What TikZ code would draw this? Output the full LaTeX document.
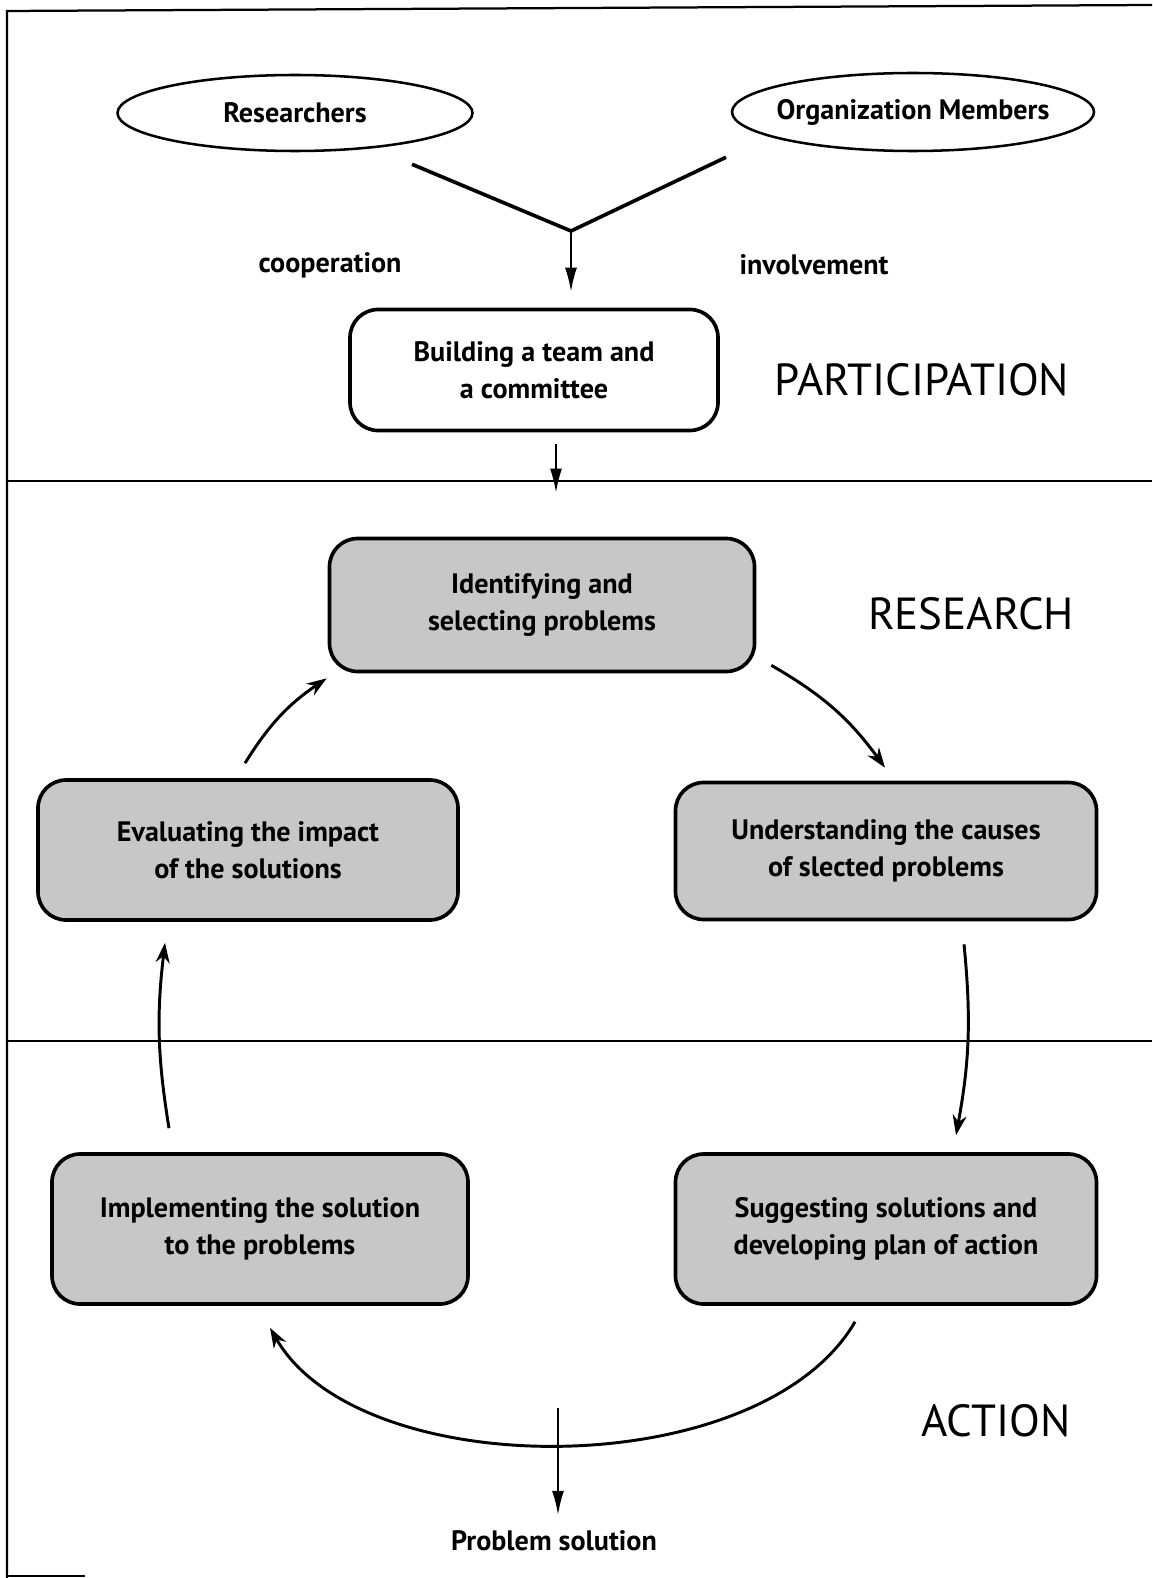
\documentclass[tikz,border=0pt]{standalone}
\usepackage{fontspec}
\setmainfont{PT Sans}
\usetikzlibrary{shapes.geometric,arrows.meta}

\begin{document}
\begin{tikzpicture}[x=0.25mm,y=-0.25mm,font=\fontsize{20}{26}\selectfont\bfseries,
	oval/.style={ellipse,draw,line width=1.8pt,inner ysep=0pt,inner xsep=-6mm},
	plainbox/.style={draw,line width=2.6pt,rounded corners=20pt,align=center,inner sep=0pt},
	greybox/.style={plainbox,fill=black!22},
	phase/.style={font=\fontsize{32}{38}\selectfont},
	flow/.style={line width=1.3pt,-{Latex[length=6mm,width=3mm]}},
	turn/.style={line width=2.1pt,-{Stealth[length=5mm,width=3.5mm]}}]
		\useasboundingbox (0,0) rectangle (1152,1578);
		% frame and bands
		\draw[line width=1.6pt] (1152,5) -- (7,11) -- (7,1578);
		\draw[line width=1.6pt] (7,1576) -- (85,1576);
		\draw[line width=1.6pt] (7,481) -- (1152,481);
		\draw[line width=1.6pt] (7,1041) -- (1152,1041);
		\node[oval,minimum width=88.75mm,minimum height=19mm] (res) at (295,113) {Researchers};
		\node[oval,minimum width=90.5mm,minimum height=19.5mm] (org) at (913,112) {Organization Members};
		\node (coop) at (330,265) {cooperation};
		\node (inv) at (814,265) {involvement};
		\node[plainbox,minimum width=92mm,minimum height=30.25mm] (build) at (534,370) {Building a team and\\a committee};
		\node[phase] (part) at (922,380) {PARTICIPATION};
		\node[greybox,minimum width=106.25mm,minimum height=33.25mm] (iden) at (542,605) {Identifying and\\selecting problems};
		\node[phase] (rsch) at (971,614) {RESEARCH};
		\node[greybox,minimum width=105mm,minimum height=35mm] (eval) at (248,850) {Evaluating the impact\\of the solutions};
		\node[greybox,minimum width=105.25mm,minimum height=34.25mm] (under) at (886,851) {Understanding the causes\\of slected problems};
		\node[greybox,minimum width=104mm,minimum height=37.5mm] (impl) at (260,1229) {Implementing the solution\\to the problems};
		\node[greybox,minimum width=105.25mm,minimum height=37.5mm] (sugg) at (886,1229) {Suggesting solutions and\\developing plan of action};
		\node[phase] (act) at (996,1421) {ACTION};
		\node (sol) at (554,1541) {Problem solution};
		% the V of the two groups
		\coordinate (vl) at ([shift={(117,12)}]res.south);
		\coordinate (vr) at ([shift={(-187,5)}]org.south);
		\coordinate (join) at (571,231);
		\draw[line width=2.6pt] (vl) -- (join) -- (vr);
		\draw[flow,shorten >=4mm] (join) -- (join |- build.north);
		\coordinate (b1) at ([shift={(22,12)}]build.south);
		\coordinate (b2) at ([shift={(14,-44)}]iden.north);
		\draw[flow] (b1) -- (b2);
		% the cycle
		\coordinate (c1) at ([shift={(15,-8)}]iden.south east);
		\coordinate (c2) at ([shift={(-1,-13)}]under.north);
		\draw[turn] (c1) to[bend left=12] (c2);
		\coordinate (c7) at ([shift={(78,23)}]under.south);
		\coordinate (c8) at ([shift={(70,-17)}]sugg.north);
		\draw[turn] (c7) to[bend left=8] (c8);
		\coordinate (c9) at ([shift={(-31,16)}]sugg.south);
		\coordinate (c10) at ([shift={(10,22)}]impl.south);
		\draw[turn] (c9) .. controls (760,1485) and (360,1485) .. (c10);
		\coordinate (c5) at ([shift={(-91,-24)}]impl.north);
		\coordinate (c6) at ([shift={(-83,21)}]eval.south);
		\draw[turn] (c5) to[bend left=8] (c6);
		\coordinate (c3) at ([shift={(-3,-15)}]eval.north);
		\coordinate (c4) at ([shift={(-1,5)}]iden.south west);
		\draw[turn] (c3) to[bend left=12] (c4);
		% way out
		\coordinate (d1) at (558,1408);
		\draw[flow,shorten >=2.75mm] (d1) -- (d1 |- sol.north);
	\end{tikzpicture}
\end{document}
